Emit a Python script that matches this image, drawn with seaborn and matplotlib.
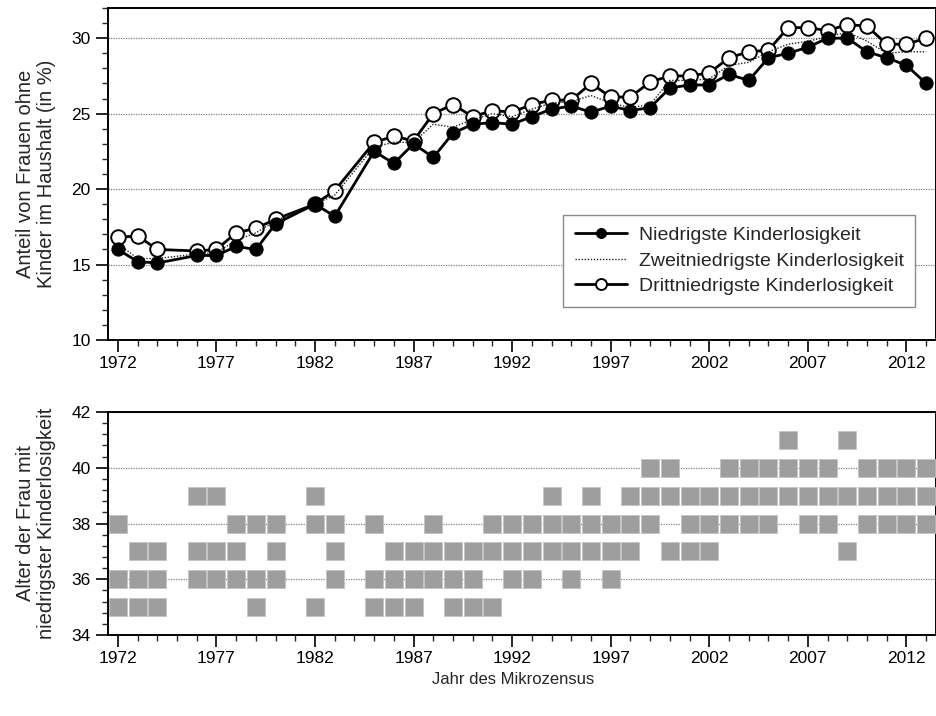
import matplotlib
matplotlib.use("Agg")
import matplotlib.pyplot as plt
import seaborn as sns
import pandas as pd
from matplotlib.ticker import MultipleLocator, AutoMinorLocator

# Erhebungsjahre des Mikrozensus (1975, 1981, 1984 ohne Daten)
jahre = [1972, 1973, 1974, 1976, 1977, 1978, 1979, 1980, 1982, 1983,
         1985, 1986, 1987, 1988, 1989, 1990, 1991, 1992, 1993, 1994,
         1995, 1996, 1997, 1998, 1999, 2000, 2001, 2002, 2003, 2004,
         2005, 2006, 2007, 2008, 2009, 2010, 2011, 2012, 2013]

# Anteil von Frauen ohne Kinder im Haushalt (in %)
niedrigste = [16.0, 15.2, 15.1, 15.6, 15.6, 16.2, 16.0, 17.7, 19.0, 18.2,
              22.5, 21.7, 23.0, 22.1, 23.7, 24.3, 24.4, 24.3, 24.8, 25.3,
              25.5, 25.1, 25.5, 25.2, 25.4, 26.7, 26.9, 26.9, 27.6, 27.2,
              28.7, 29.0, 29.4, 30.0, 30.0, 29.1, 28.7, 28.2, 27.0]
zweitniedrigste = [16.4, 15.4, 15.4, 15.7, 15.8, 16.6, 17.1, 17.9, 19.0, 19.6,
                   22.8, 23.1, 23.1, 24.3, 24.1, 24.6, 25.0, 24.8, 25.3, 25.7,
                   25.8, 26.2, 25.7, 25.4, 25.6, 27.2, 27.2, 27.3, 28.2, 28.4,
                   29.1, 29.6, 29.8, 30.1, 30.4, 29.8, 29.0, 29.1, 29.1]
drittniedrigste = [16.8, 16.9, 16.0, 15.9, 16.0, 17.1, 17.4, 18.0, 19.0, 19.9,
                   23.1, 23.5, 23.2, 25.0, 25.6, 24.8, 25.2, 25.1, 25.6, 25.9,
                   25.9, 27.0, 26.1, 26.1, 27.1, 27.5, 27.5, 27.7, 28.7, 29.1,
                   29.2, 30.7, 30.7, 30.5, 30.9, 30.8, 29.6, 29.6, 30.0]

# Alter der Frau mit niedrigster Kinderlosigkeit (drei Alter je Jahr)
alter_oben = [38, 37, 37, 39, 39, 38, 38, 38, 39, 38,
              38, 37, 37, 38, 37, 37, 38, 38, 38, 39,
              38, 39, 38, 39, 40, 40, 39, 39, 40, 40,
              40, 41, 40, 40, 41, 40, 40, 40, 40]
alter_mitte = [36, 36, 36, 37, 37, 37, 36, 37, 38, 37,
               36, 36, 36, 37, 36, 36, 37, 37, 37, 38,
               37, 38, 37, 38, 39, 39, 38, 38, 39, 39,
               39, 40, 39, 39, 39, 39, 39, 39, 39]
alter_unten = [35, 35, 35, 36, 36, 36, 35, 36, 35, 36,
               35, 35, 35, 36, 35, 35, 35, 36, 36, 37,
               36, 37, 36, 37, 38, 37, 37, 37, 38, 38,
               38, 39, 38, 38, 37, 38, 38, 38, 38]

sns.set_style("ticks")
plt.rcParams["font.family"] = ["Liberation Sans", "DejaVu Sans"]
plt.rcParams["axes.edgecolor"] = "black"

W, H = 936, 716
fig = plt.figure(figsize=(W / 100, H / 100), dpi=100)
ax1 = fig.add_axes([108 / W, 1 - 340 / H, 828 / W, 332 / H])
ax2 = fig.add_axes([108 / W, 1 - 635 / H, 828 / W, 223 / H])

df = pd.DataFrame({"Jahr": jahre, "n1": niedrigste,
                   "n2": zweitniedrigste, "n3": drittniedrigste})

sns.lineplot(data=df, x="Jahr", y="n3", ax=ax1, color="black", lw=2.0,
             marker="o", markersize=10.5, markerfacecolor="white",
             markeredgecolor="black", markeredgewidth=1.4,
             label="Drittniedrigste Kinderlosigkeit", zorder=3)
sns.lineplot(data=df, x="Jahr", y="n2", ax=ax1, color="#222222", lw=1.0,
             linestyle=(0, (1, 1.2)),
             label="Zweitniedrigste Kinderlosigkeit", zorder=4)
sns.lineplot(data=df, x="Jahr", y="n1", ax=ax1, color="black", lw=2.0,
             marker="o", markersize=9.5, markerfacecolor="black",
             markeredgecolor="black",
             label="Niedrigste Kinderlosigkeit", zorder=5)

lang = pd.DataFrame({
    "Jahr": jahre * 3,
    "Alter": alter_oben + alter_mitte + alter_unten,
})
sns.scatterplot(data=lang, x="Jahr", y="Alter", ax=ax2, marker="s", s=150,
                color="#9e9e9e", edgecolor="#c4c4c4", linewidth=0.6,
                zorder=3, legend=False)

for ax in (ax1, ax2):
    ax.set_xlim(1971.5, 2013.5)
    ax.set_xticks(range(1972, 2013, 5))
    ax.xaxis.set_minor_locator(MultipleLocator(1))
    ax.yaxis.set_minor_locator(AutoMinorLocator(5))
    ax.tick_params(which="major", direction="out", length=8.5, width=1.2,
                   labelsize=12.5, colors="black", top=False, right=False)
    ax.tick_params(which="minor", direction="out", length=4.5, width=1.0,
                   top=False, right=False)
    ax.tick_params(axis="x", which="major", pad=3)
    ax.tick_params(axis="y", which="major", pad=4)
    ax.yaxis.grid(True, which="major", linestyle=(0, (1, 1)),
                  color="#808080", lw=0.9)
    ax.set_axisbelow(True)
    for s in ax.spines.values():
        s.set_linewidth(1.4)
        s.set_color("black")
        s.set_visible(True)

ax1.set_ylim(10, 32)
ax1.set_yticks([10, 15, 20, 25, 30])
ax2.set_ylim(34, 42)
ax2.set_yticks([34, 36, 38, 40, 42])

ax1.set_xlabel("")
ax1.set_ylabel("Anteil von Frauen ohne\nKinder im Haushalt (in %)",
               fontsize=14.5, linespacing=1.1)
ax1.yaxis.set_label_coords(-0.063, 0.5)
ax2.set_ylabel("Alter der Frau mit\nniedrigster Kinderlosigkeit",
               fontsize=14.5, linespacing=1.1)
ax2.yaxis.set_label_coords(-0.063, 0.5)
ax2.set_xlabel("Jahr des Mikrozensus", fontsize=12)
ax2.xaxis.set_label_coords(0.489, -0.165)

handles, labels = ax1.get_legend_handles_labels()
order = [2, 1, 0]
leg = ax1.legend([handles[i] for i in order], [labels[i] for i in order],
                 loc="upper left", bbox_to_anchor=(0.5495, 0.3765),
                 fontsize=14, frameon=True, fancybox=False, framealpha=1,
                 edgecolor="#8a8a8a", handlelength=2.7, handletextpad=0.6,
                 labelspacing=0.4, markerscale=0.75, borderpad=0.6,
                 borderaxespad=0)
leg.get_frame().set_linewidth(1.0)

fig.savefig("out.png", dpi=100)
